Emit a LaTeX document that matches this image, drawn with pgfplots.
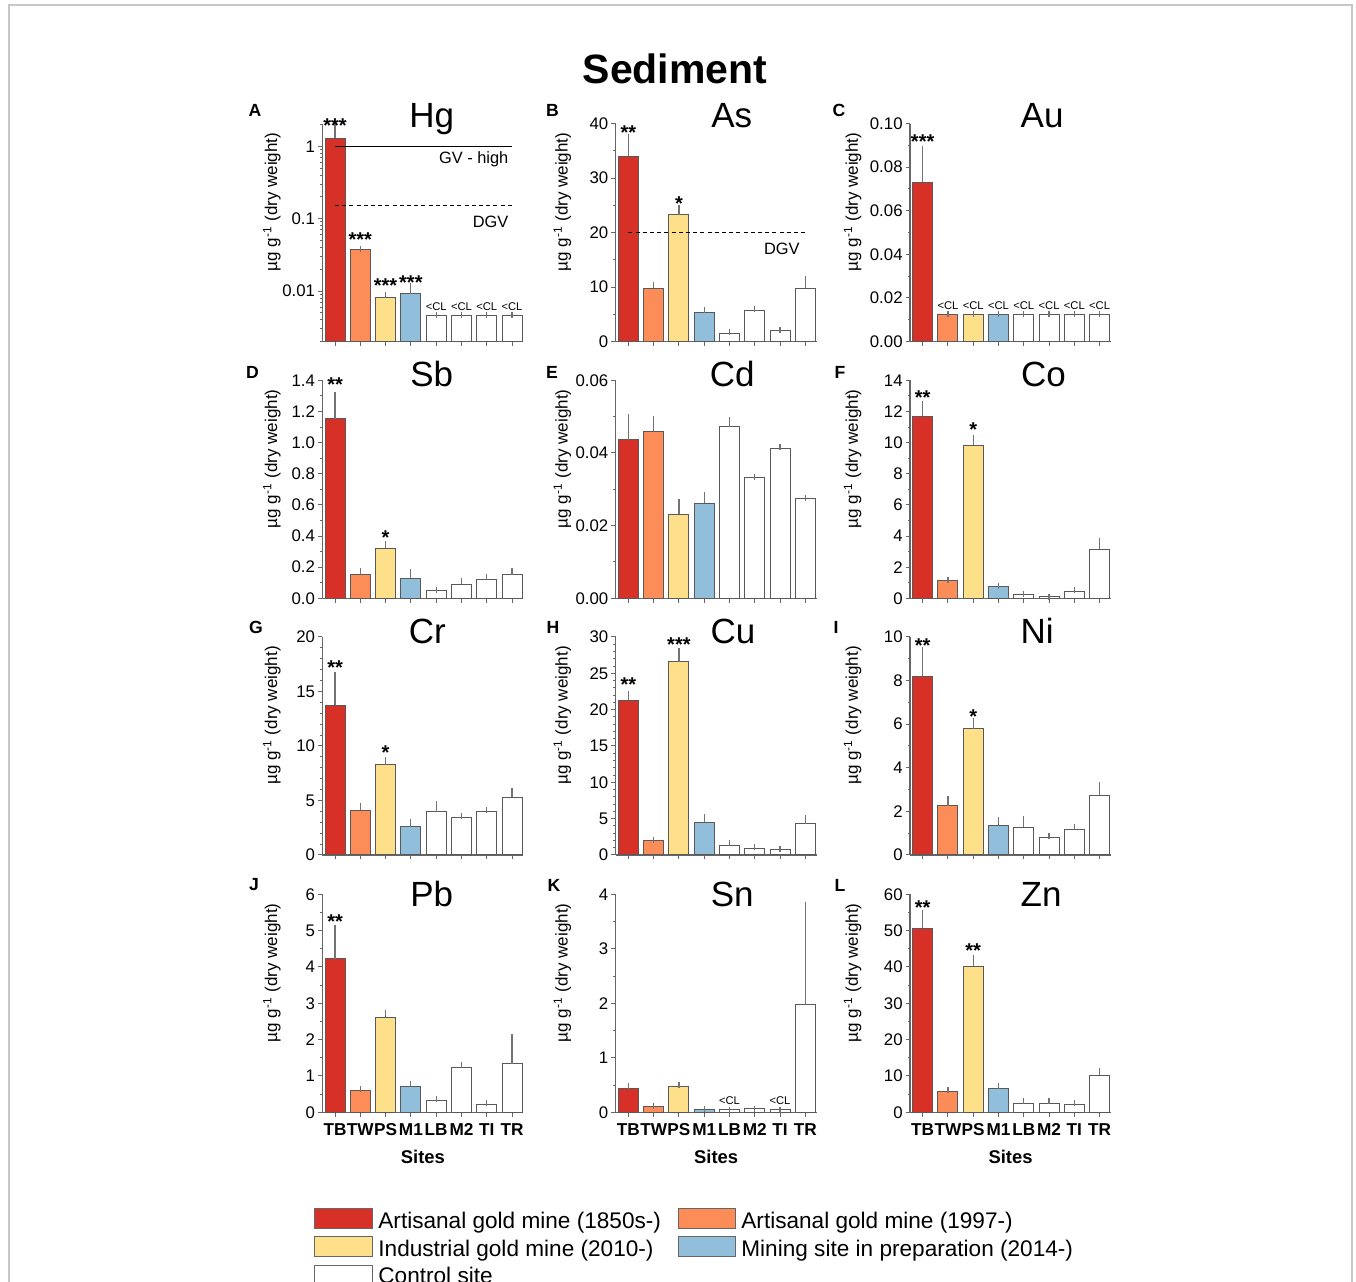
\documentclass[border=0pt]{standalone}
\usepackage{pgfplots}
\pgfplotsset{compat=1.18}
\usepackage{fontspec}
\setmainfont{Liberation Sans}
\definecolor{cred}{HTML}{D73027}
\definecolor{corange}{HTML}{FC8D59}
\definecolor{cyellow}{HTML}{FEE08B}
\definecolor{cblue}{HTML}{91BFDB}
\pgfplotsset{
  panel/.style={
    scale only axis, width=100.5pt, height=109pt, anchor=south west,
    xmin=-0.5, xmax=7.45, ymin=0,
    axis x line*=bottom, axis y line*=left,
    axis line style={black!60, line width=0.6pt},
    xtick={0,...,7}, xticklabels={},
    tick align=outside,
    major tick length=2.2pt, minor tick length=1.2pt,
    tick style={black!60, line width=0.5pt},
    minor y tick num=1,
    clip=false,
    /pgf/number format/assume math mode=true,
    tick label style={font=\fontsize{8.4}{9}\selectfont},
    yticklabel style={inner sep=1.3pt},
    ylabel={µg g\textsuperscript{-1} (dry weight)},
    ylabel style={font=\fontsize{8.5}{10}\selectfont, anchor=center},
    every axis title shift=0pt,
    title style={font=\fontsize{17.5}{19}\selectfont, anchor=base},
    scaled y ticks=false,
  },
  col1/.style={ylabel style={at={(axis description cs:-0.251,0.64)}}},
  col2/.style={ylabel style={at={(axis description cs:-0.265,0.64)}}},
  col3/.style={ylabel style={at={(axis description cs:-0.285,0.64)}}},
  bottomrow/.style={xticklabels={TB,TW,PS,M1,LB,M2,TI,TR},
    xticklabel style={font=\bfseries\fontsize{8.6}{9}\selectfont},
    xlabel={Sites},
    xlabel style={font=\bfseries\fontsize{9.2}{10}\selectfont, at={(axis description cs:0.5,0)}, anchor=base, yshift=-25.5pt}},
  mybar/.style={ybar, bar width=10pt, bar shift=0pt, fill=#1, draw=black!65, line width=0.5pt,
    error bars/y dir=plus, error bars/y explicit,
    error bars/error bar style={black!55, line width=0.6pt},
    error bars/error mark options={black!55, line width=0.6pt, mark size=1.5pt}},
  stars/.style={draw=none, mark=none, point meta=explicit symbolic, nodes near coords,
    nodes near coords style={font=\bfseries\fontsize{10}{10}\selectfont, anchor=base, yshift=-5.8pt, inner sep=0pt}},
  cl/.style={draw=none, mark=none, point meta=explicit symbolic, nodes near coords,
    nodes near coords style={font=\fontsize{5.6}{6}\selectfont, anchor=center, inner sep=0pt}},
  gvline/.style={sharp plot, black, line width=0.5pt},
  dgvline/.style={sharp plot, black, line width=0.45pt, dash pattern=on 2pt off 1.6pt},
  dec1/.style={yticklabel style={/pgf/number format/fixed, /pgf/number format/fixed zerofill, /pgf/number format/precision=1}},
  dec2/.style={yticklabel style={/pgf/number format/fixed, /pgf/number format/fixed zerofill, /pgf/number format/precision=2}},
}
\begin{document}
\begin{tikzpicture}
\useasboundingbox (0,0) rectangle (678pt,640.5pt);
\draw[black!22, line width=0.6pt] (4.5pt,638pt) rectangle (676pt,-10pt);
\node[font=\bfseries\fontsize{20.5}{22}\selectfont, anchor=base] at (337.5pt,598.5pt) {Sediment};

% ---------- Row 1 ----------
% A Hg
\begin{axis}[panel, col1, at={(161.2pt,469.7pt)},
  ymode=log, log origin=infty, ymin=0.002, ymax=2.06,
  ytick={0.01,0.1,1}, yticklabels={0.01,0.1,1}, minor y tick num=0,
  minor ytick={0.002,0.003,0.004,0.005,0.006,0.007,0.008,0.009,0.02,0.03,0.04,0.05,0.06,0.07,0.08,0.09,0.2,0.3,0.4,0.5,0.6,0.7,0.8,0.9,2},
  title={Hg}, title style={at={(axis description cs:0.544,0.982)}}]
\addplot[mybar=cred] coordinates {(0,1.29) +- (0,0.60)};
\addplot[mybar=corange] coordinates {(1,0.0373) +- (0,0.0007)};
\addplot[mybar=cyellow] coordinates {(2,0.00826) +- (0,0.00054)};
\addplot[mybar=cblue] coordinates {(3,0.0092) +- (0,0.0024)};
\addplot[mybar=white] coordinates {(4,0.00466) +- (0,0) (5,0.00466) +- (0,0) (6,0.00466) +- (0,0) (7,0.00466) +- (0,0)};
\addplot[gvline] coordinates {(0,1) (7,1)};
\addplot[dgvline] coordinates {(0,0.15) (7,0.15)};
\addplot[stars] coordinates {(0,2.27) [***] (1,0.060) [***] (2,0.0139) [***] (3,0.0154) [***]};
\addplot[cl] coordinates {(4,0.00612) [<CL] (5,0.00612) [<CL] (6,0.00612) [<CL] (7,0.00612) [<CL]};
\node[anchor=base east, inner sep=0pt, font=\fontsize{8.2}{9}\selectfont] at (axis cs:6.87,0.571) {GV - high};
\node[anchor=base east, inner sep=0pt, font=\fontsize{8.2}{9}\selectfont] at (axis cs:6.87,0.0758) {DGV};
\end{axis}

% B As
\begin{axis}[panel, col2, at={(307.85pt,469.7pt)}, ymax=40, ytick={0,10,20,30,40},
  title={As}, title style={at={(axis description cs:0.577,0.982)}}]
\addplot[mybar=cred] coordinates {(0,34.0) +- (0,3.6)};
\addplot[mybar=corange] coordinates {(1,9.77) +- (0,0.63)};
\addplot[mybar=cyellow] coordinates {(2,23.3) +- (0,1.25)};
\addplot[mybar=cblue] coordinates {(3,5.31) +- (0,0.43)};
\addplot[mybar=white] coordinates {(4,1.53) +- (0,0.18) (5,5.74) +- (0,0.31) (6,2.0) +- (0,0.14) (7,9.77) +- (0,1.77)};
\addplot[dgvline] coordinates {(0,20) (7,20)};
\addplot[stars] coordinates {(0,39.27) [**] (2,26.26) [*]};
\node[anchor=base east, inner sep=0pt, font=\fontsize{8.2}{9}\selectfont] at (axis cs:6.79,16.0) {DGV};
\end{axis}

% C Au
\begin{axis}[panel, col3, dec2, at={(455pt,469.7pt)}, ymax=0.1, ytick={0,0.02,0.04,0.06,0.08,0.1},
  title={Au}, title style={at={(axis description cs:0.657,0.982)}}]
\addplot[mybar=cred] coordinates {(0,0.0730) +- (0,0.0155)};
\addplot[mybar=corange] coordinates {(1,0.0125) +- (0,0)};
\addplot[mybar=cyellow] coordinates {(2,0.0125) +- (0,0)};
\addplot[mybar=cblue] coordinates {(3,0.0125) +- (0,0)};
\addplot[mybar=white] coordinates {(4,0.0125) +- (0,0) (5,0.0125) +- (0,0) (6,0.0125) +- (0,0) (7,0.0125) +- (0,0)};
\addplot[stars] coordinates {(0,0.0939) [***]};
\addplot[cl] coordinates {(1,0.0165) [<CL] (2,0.0165) [<CL] (3,0.0165) [<CL] (4,0.0165) [<CL] (5,0.0165) [<CL] (6,0.0165) [<CL] (7,0.0165) [<CL]};
\end{axis}

% ---------- Row 2 ----------
% D Sb
\begin{axis}[panel, col1, dec1, at={(161.2pt,341.35pt)}, ymax=1.4, ytick={0,0.2,0.4,0.6,0.8,1.0,1.2,1.4},
  title={Sb}, title style={at={(axis description cs:0.544,0.97)}}]
\addplot[mybar=cred] coordinates {(0,1.153) +- (0,0.155)};
\addplot[mybar=corange] coordinates {(1,0.154) +- (0,0.020)};
\addplot[mybar=cyellow] coordinates {(2,0.322) +- (0,0.025)};
\addplot[mybar=cblue] coordinates {(3,0.129) +- (0,0.040)};
\addplot[mybar=white] coordinates {(4,0.051) +- (0,0.005) (5,0.090) +- (0,0.019) (6,0.118) +- (0,0.017) (7,0.152) +- (0,0.026)};
\addplot[stars] coordinates {(0,1.405) [**] (2,0.418) [*]};
\end{axis}

% E Cd
\begin{axis}[panel, col2, dec2, at={(307.85pt,341.35pt)}, ymax=0.06, ytick={0,0.02,0.04,0.06},
  title={Cd}, title style={at={(axis description cs:0.58,0.97)}}]
\addplot[mybar=cred] coordinates {(0,0.0436) +- (0,0.0063)};
\addplot[mybar=corange] coordinates {(1,0.0460) +- (0,0.0033)};
\addplot[mybar=cyellow] coordinates {(2,0.0232) +- (0,0.0034)};
\addplot[mybar=cblue] coordinates {(3,0.0262) +- (0,0.0022)};
\addplot[mybar=white] coordinates {(4,0.0472) +- (0,0.0019) (5,0.0333) +- (0,0.0002) (6,0.0413) +- (0,0.0004) (7,0.0276) +- (0,0.0001)};
\end{axis}

% F Co
\begin{axis}[panel, col3, at={(455pt,341.35pt)}, ymax=14, ytick={0,2,4,6,8,10,12,14},
  title={Co}, title style={at={(axis description cs:0.664,0.97)}}]
\addplot[mybar=cred] coordinates {(0,11.69) +- (0,0.77)};
\addplot[mybar=corange] coordinates {(1,1.115) +- (0,0.045)};
\addplot[mybar=cyellow] coordinates {(2,9.82) +- (0,0.47)};
\addplot[mybar=cblue] coordinates {(3,0.73) +- (0,0.08)};
\addplot[mybar=white] coordinates {(4,0.26) +- (0,0.04) (5,0.086) +- (0,0.024) (6,0.43) +- (0,0.11) (7,3.15) +- (0,0.56)};
\addplot[stars] coordinates {(0,13.19) [**] (2,11.15) [*]};
\end{axis}

% ---------- Row 3 ----------
% G Cr
\begin{axis}[panel, col1, at={(161.2pt,213.0pt)}, ymax=20, ytick={0,5,10,15,20}, minor y tick num=4,
  title={Cr}, title style={at={(axis description cs:0.522,0.968)}}]
\addplot[mybar=cred] coordinates {(0,13.72) +- (0,2.76)};
\addplot[mybar=corange] coordinates {(1,4.10) +- (0,0.43)};
\addplot[mybar=cyellow] coordinates {(2,8.30) +- (0,0.37)};
\addplot[mybar=cblue] coordinates {(3,2.57) +- (0,0.43)};
\addplot[mybar=white] coordinates {(4,3.98) +- (0,0.68) (5,3.43) +- (0,0.18) (6,3.95) +- (0,0.15) (7,5.30) +- (0,0.58)};
\addplot[stars] coordinates {(0,17.61) [**] (2,9.86) [*]};
\end{axis}

% H Cu
\begin{axis}[panel, col2, at={(307.85pt,213.0pt)}, ymax=30, ytick={0,5,10,15,20,25,30}, minor y tick num=4,
  title={Cu}, title style={at={(axis description cs:0.584,0.968)}}]
\addplot[mybar=cred] coordinates {(0,21.27) +- (0,0.87)};
\addplot[mybar=corange] coordinates {(1,2.02) +- (0,0.09)};
\addplot[mybar=cyellow] coordinates {(2,26.6) +- (0,1.47)};
\addplot[mybar=cblue] coordinates {(3,4.50) +- (0,0.74)};
\addplot[mybar=white] coordinates {(4,1.33) +- (0,0.32) (5,0.96) +- (0,0.10) (6,0.78) +- (0,0.09) (7,4.32) +- (0,0.73)};
\addplot[stars] coordinates {(0,24.08) [**] (2,29.6) [***]};
\end{axis}

% I Ni
\begin{axis}[panel, col3, at={(455pt,213.0pt)}, ymax=10, ytick={0,2,4,6,8,10},
  title={Ni}, title style={at={(axis description cs:0.633,0.968)}}]
\addplot[mybar=cred] coordinates {(0,8.21) +- (0,1.19)};
\addplot[mybar=corange] coordinates {(1,2.27) +- (0,0.29)};
\addplot[mybar=cyellow] coordinates {(2,5.80) +- (0,0.34)};
\addplot[mybar=cblue] coordinates {(3,1.36) +- (0,0.26)};
\addplot[mybar=white] coordinates {(4,1.27) +- (0,0.38) (5,0.81) +- (0,0.05) (6,1.18) +- (0,0.11) (7,2.74) +- (0,0.48)};
\addplot[stars] coordinates {(0,9.83) [**] (2,6.58) [*]};
\end{axis}

% ---------- Row 4 ----------
% J Pb
\begin{axis}[panel, col1, bottomrow, at={(161.2pt,84.35pt)}, ymax=6, ytick={0,1,2,3,4,5,6},
  title={Pb}, title style={at={(axis description cs:0.544,0.943)}}]
\addplot[mybar=cred] coordinates {(0,4.23) +- (0,0.83)};
\addplot[mybar=corange] coordinates {(1,0.587) +- (0,0.046)};
\addplot[mybar=cyellow] coordinates {(2,2.61) +- (0,0.13)};
\addplot[mybar=cblue] coordinates {(3,0.706) +- (0,0.064)};
\addplot[mybar=white] coordinates {(4,0.33) +- (0,0.046) (5,1.24) +- (0,0.05) (6,0.22) +- (0,0.03) (7,1.34) +- (0,0.74)};
\addplot[stars] coordinates {(0,5.38) [**]};
\end{axis}

% K Sn
\begin{axis}[panel, col2, bottomrow, at={(307.85pt,84.35pt)}, ymax=4, ytick={0,1,2,3,4},
  title={Sn}, title style={at={(axis description cs:0.58,0.943)}}]
\addplot[mybar=cred] coordinates {(0,0.43) +- (0,0.06)};
\addplot[mybar=corange] coordinates {(1,0.11) +- (0,0.01)};
\addplot[mybar=cyellow] coordinates {(2,0.48) +- (0,0.02)};
\addplot[mybar=cblue] coordinates {(3,0.055) +- (0,0.012)};
\addplot[mybar=white] coordinates {(4,0.05) +- (0,0) (5,0.061) +- (0,0.006) (6,0.05) +- (0,0) (7,1.97) +- (0,1.84)};
\addplot[cl] coordinates {(4,0.207) [<CL] (6,0.207) [<CL]};
\end{axis}

% L Zn
\begin{axis}[panel, col3, bottomrow, at={(455pt,84.35pt)}, ymax=60, ytick={0,10,20,30,40,50,60},
  title={Zn}, title style={at={(axis description cs:0.652,0.943)}}]
\addplot[mybar=cred] coordinates {(0,50.6) +- (0,4.2)};
\addplot[mybar=corange] coordinates {(1,5.8) +- (0,0.2)};
\addplot[mybar=cyellow] coordinates {(2,40.2) +- (0,2.2)};
\addplot[mybar=cblue] coordinates {(3,6.6) +- (0,0.6)};
\addplot[mybar=white] coordinates {(4,2.5) +- (0,0.5) (5,2.5) +- (0,0.5) (6,2.2) +- (0,0.3) (7,10.2) +- (0,1.1)};
\addplot[stars] coordinates {(0,57.6) [**] (2,45.8) [**]};
\end{axis}

% panel letters
\begin{scope}[every node/.style={font=\bfseries\fontsize{8.8}{10}\selectfont, anchor=center}]
\node at (127.5pt,585.5pt) {A};
\node at (276.25pt,585.5pt) {B};
\node at (419.5pt,585.5pt) {C};
\node at (126.25pt,454.5pt) {D};
\node at (276pt,454.5pt) {E};
\node at (420pt,454.5pt) {F};
\node at (128pt,327pt) {G};
\node at (276.5pt,327pt) {H};
\node at (418pt,327pt) {I};
\node at (127pt,198pt) {J};
\node at (277pt,198pt) {K};
\node at (420pt,198pt) {L};
\end{scope}

% legend
\begin{scope}[every node/.style={font=\fontsize{11.3}{13}\selectfont, anchor=base west, inner sep=0pt}]
\draw[black!60, line width=0.5pt, fill=cred] (157pt,26pt) rectangle (186pt,36pt);
\node at (189pt,26.5pt) {Artisanal gold mine (1850s-)};
\draw[black!60, line width=0.5pt, fill=corange] (339pt,26pt) rectangle (367.5pt,36pt);
\node at (370.5pt,26.5pt) {Artisanal gold mine (1997-)};
\draw[black!60, line width=0.5pt, fill=cyellow] (157pt,12pt) rectangle (186pt,22pt);
\node at (189pt,12.5pt) {Industrial gold mine (2010-)};
\draw[black!60, line width=0.5pt, fill=cblue] (339pt,12pt) rectangle (367.5pt,22pt);
\node at (370.5pt,12.5pt) {Mining site in preparation (2014-)};
\draw[black!60, line width=0.5pt, fill=white] (157pt,-2pt) rectangle (186pt,8pt);
\node at (189pt,-1.5pt) {Control site};
\end{scope}
\end{tikzpicture}
\end{document}
